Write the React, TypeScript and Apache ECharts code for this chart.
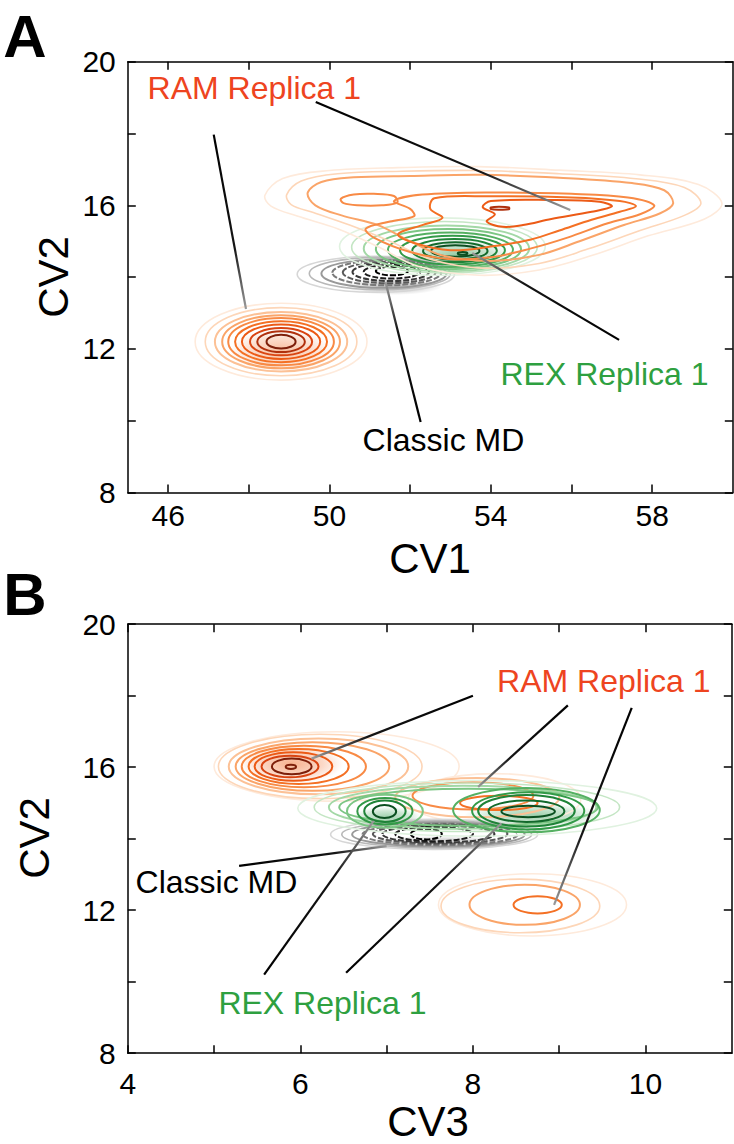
import React, { useEffect, useRef } from "react";
import * as echarts from "echarts";

// ---------- axes ----------
const A_X_TICKS = [46, 48, 50, 52, 54, 56, 58];
const A_X_LABELS = [46, 50, 54, 58];
const B_X_TICKS = [4, 5, 6, 7, 8, 9, 10];
const B_X_LABELS = [4, 6, 8, 10];
const Y_TICKS = [8, 10, 12, 14, 16, 18, 20];
const Y_LABELS = [8, 12, 16, 20];

// ---------- palettes (outer -> inner contour level) ----------
const ORANGE = ["#feeadb", "#fdd6b8", "#fcc196", "#faa468", "#f88a45", "#f47024", "#ec5a16", "#d94412", "#b0300d", "#7d1f0a"];
const GREEN = ["#e0f2e0", "#c4e6c4", "#a3d8a6", "#7cc684", "#55b062", "#339a48", "#1f8338", "#136a2c", "#0b4f20"];
const GRAY = ["#d6d6d6", "#b8b8b8", "#999999", "#7a7a7a", "#5a5a5a", "#3a3a3a", "#1c1c1c", "#000000"];

// ---------- Panel A contours: [cx, cy, rx, ry, level] ----------
const A_RAM_RINGS = [
  [48.8, 12.2, 2.13, 1.07, 0],
  [48.8, 12.2, 1.88, 0.95, 1],
  [48.8, 12.2, 1.64, 0.83, 2],
  [48.8, 12.2, 1.46, 0.74, 3],
  [48.8, 12.2, 1.31, 0.66, 4],
  [48.8, 12.2, 1.14, 0.57, 5],
  [48.8, 12.2, 0.97, 0.48, 6],
  [48.8, 12.2, 0.77, 0.38, 7],
  [48.8, 12.2, 0.59, 0.29, 8],
  [48.8, 12.2, 0.36, 0.19, 9],
];
// irregular RAM density (upper part of panel A): level + outline points
const A_RAM_POLY_LEVELS = [0, 1, 3, 4, 4, 5, 6, 8];
const A_RAM_POLY_POINTS = [
  [[48.4, 16.28], [48.84, 16.75], [50.0, 16.97], [51.7, 17.05], [53.7, 17.08], [55.7, 16.98], [57.7, 16.85], [59.15, 16.58], [59.73, 16.06], [59.3, 15.62], [57.9, 15.15], [56.5, 14.6], [55.2, 14.2], [53.7, 14.05], [52.2, 14.3], [51.2, 14.85], [50.2, 15.35], [49.2, 15.7], [48.55, 15.98]],
  [[48.94, 16.3], [49.3, 16.68], [50.2, 16.88], [51.8, 16.95], [53.7, 16.97], [55.7, 16.88], [57.6, 16.74], [58.8, 16.5], [59.21, 16.06], [58.8, 15.72], [57.7, 15.3], [56.4, 14.78], [55.2, 14.38], [53.8, 14.25], [52.5, 14.5], [51.5, 15.0], [50.5, 15.45], [49.6, 15.8], [49.05, 16.02]],
  [[49.46, 16.35], [49.8, 16.65], [50.6, 16.78], [52.0, 16.82], [53.8, 16.85], [55.7, 16.77], [57.5, 16.62], [58.3, 16.42], [58.52, 16.05], [58.2, 15.78], [57.3, 15.45], [56.2, 15.0], [55.2, 14.62], [54.0, 14.45], [52.8, 14.6], [52.0, 15.0], [51.2, 15.45], [50.3, 15.72], [49.65, 16.0]],
  [[50.28, 16.18], [50.6, 16.3], [51.1, 16.32], [51.6, 16.26], [51.68, 16.08], [51.3, 16.0], [50.7, 16.0], [50.35, 16.06]],
  [[51.6, 16.12], [52.3, 16.3], [54.0, 16.36], [56.0, 16.32], [57.4, 16.22], [58.05, 16.0], [57.7, 15.75], [56.9, 15.5], [55.9, 15.1], [55.0, 14.8], [54.0, 14.55], [53.0, 14.5], [52.0, 14.7], [51.1, 15.1], [50.9, 15.35], [51.5, 15.55], [52.1, 15.7], [52.0, 15.9]],
  [[52.6, 16.2], [54.0, 16.25], [56.0, 16.22], [57.2, 16.12], [57.6, 15.98], [57.2, 15.82], [56.5, 15.6], [55.7, 15.3], [55.0, 15.05], [54.0, 14.85], [53.0, 14.75], [52.1, 14.95], [51.7, 15.2], [52.3, 15.45], [52.8, 15.65], [52.5, 15.9]],
  [[54.0, 16.12], [55.5, 16.15], [56.7, 16.1], [57.0, 15.97], [56.5, 15.82], [55.5, 15.62], [54.8, 15.45], [54.3, 15.4], [53.9, 15.55], [54.1, 15.75], [53.8, 15.95]],
  [[54.0, 15.94], [54.2, 15.96], [54.45, 15.94], [54.45, 15.89], [54.2, 15.88], [54.0, 15.9]],
];
const A_REX_RINGS = [
  [52.8, 14.85, 2.55, 0.8, 0],
  [52.85, 14.83, 2.3, 0.72, 1],
  [52.9, 14.8, 2.05, 0.64, 2],
  [52.95, 14.78, 1.8, 0.56, 3],
  [53.0, 14.76, 1.55, 0.48, 4],
  [53.05, 14.75, 1.3, 0.4, 5],
  [53.1, 14.74, 1.05, 0.32, 6],
  [53.12, 14.73, 0.8, 0.24, 7],
  [53.12, 14.73, 0.6, 0.16, 8],
  [53.3, 14.66, 0.12, 0.04, 8],
];
const A_MD_RINGS = [
  [51.15, 14.08, 1.95, 0.5, 0],
  [51.25, 14.1, 1.75, 0.45, 1],
  [51.35, 14.1, 1.55, 0.4, 2],
  [51.42, 14.12, 1.35, 0.35, 3],
  [51.48, 14.13, 1.15, 0.3, 4],
  [51.52, 14.14, 0.95, 0.25, 5],
  [51.55, 14.15, 0.7, 0.19, 6],
  [51.55, 14.17, 0.4, 0.12, 7],
];

// ---------- Panel B contours ----------
const B_RAM_RINGS = [
  [6.42, 16.02, 1.42, 0.97, 0],
  [6.23, 16.02, 1.18, 0.9, 1],
  [6.21, 16.02, 1.04, 0.78, 2],
  [6.14, 16.02, 0.89, 0.68, 3],
  [6.04, 16.02, 0.72, 0.58, 4],
  [5.98, 16.02, 0.58, 0.49, 5],
  [5.92, 16.02, 0.45, 0.4, 6],
  [5.88, 16.02, 0.33, 0.3, 7],
  [5.9, 16.02, 0.23, 0.22, 9],
  [5.89, 16.01, 0.06, 0.06, 9],
  // middle component
  [8.25, 15.1, 1.0, 0.72, 0],
  [8.05, 15.15, 0.95, 0.55, 2],
  [8.0, 15.2, 0.7, 0.38, 4],
  [8.3, 15.0, 0.45, 0.2, 5],
  // lower component
  [8.69, 12.15, 1.09, 0.87, 0],
  [8.55, 12.12, 0.92, 0.75, 1],
  [8.6, 12.15, 0.64, 0.56, 3],
  [8.75, 12.15, 0.28, 0.24, 5],
];
const B_REX_RINGS = [
  [8.05, 14.85, 2.08, 0.78, 0],
  [7.93, 14.88, 1.77, 0.68, 1],
  [7.88, 14.88, 1.55, 0.6, 2],
  [7.95, 14.88, 1.5, 0.52, 3],
  [6.98, 14.77, 0.44, 0.46, 3],
  [6.98, 14.77, 0.32, 0.37, 5],
  [6.98, 14.77, 0.24, 0.3, 6],
  [6.975, 14.76, 0.135, 0.18, 8],
  [8.62, 14.8, 0.85, 0.62, 4],
  [8.64, 14.78, 0.65, 0.52, 5],
  [8.62, 14.78, 0.56, 0.44, 6],
  [8.62, 14.77, 0.44, 0.3, 7],
  [8.64, 14.76, 0.31, 0.16, 8],
];
const B_MD_RINGS = [
  [7.55, 14.12, 1.2, 0.42, 0],
  [7.58, 14.12, 1.1, 0.38, 1],
  [7.6, 14.12, 1.0, 0.34, 2],
  [7.62, 14.12, 0.9, 0.3, 3],
  [7.62, 14.13, 0.78, 0.27, 4],
  [7.6, 14.13, 0.65, 0.24, 5],
  [7.55, 14.13, 0.45, 0.2, 6],
  [7.46, 14.13, 0.18, 0.15, 7],
];

// ---------- density haze: [cx, cy, rx, ry] ----------
const A_HAZE_ORANGE = [[48.8, 11.95, 1.25, 0.6]];
const A_HAZE_GREEN = [[53.2, 14.6, 1.3, 0.45]];
const A_HAZE_GRAY = [[51.6, 13.75, 1.2, 0.25]];
const B_HAZE_ORANGE = [[5.9, 16.1, 0.6, 0.55]];
const B_HAZE_GREEN = [[8.7, 14.65, 0.8, 0.35], [7.0, 14.6, 0.4, 0.3]];
const B_HAZE_GRAY = [[7.6, 13.88, 0.9, 0.2]];

// ---------- annotations ----------
// leader lines: [x_label, y_label, x_blob, y_blob]
const A_LEADERS = [
  [49.66, 18.88, 55.97, 15.87],
  [47.13, 17.97, 47.93, 13.11],
  [57.18, 12.25, 53.54, 14.67],
  [52.26, 9.96, 51.39, 13.86],
];
const B_LEADERS = [
  [8.0, 18.0, 6.13, 16.24],
  [9.1, 17.73, 8.06, 15.45],
  [9.84, 17.66, 8.94, 12.15],
  [5.29, 13.24, 7.0, 13.79],
  [5.58, 10.2, 6.85, 14.5],
  [6.53, 10.25, 8.33, 14.43],
];
const LABEL_TEXTS = ["RAM Replica 1", "REX Replica 1", "Classic MD"];
const LABEL_COLORS = ["#ee4420", "#2ea040", "#000000"];
// [x, y, textIndex]
const A_LABELS = [
  [45.49, 19.28, 0],
  [54.24, 11.31, 1],
  [50.82, 9.46, 2],
];
const B_LABELS = [
  [8.28, 18.42, 0],
  [4.09, 12.79, 2],
  [5.05, 9.4, 1],
];

const FONT = "'Liberation Sans', Arial, Helvetica, sans-serif";

function ringSeries(data: number[][], palette: string[], axis: number, dashed = false) {
  return {
    type: "custom",
    coordinateSystem: "cartesian2d",
    xAxisIndex: axis,
    yAxisIndex: axis,
    silent: true,
    clip: true,
    data,
    encode: { x: 0, y: 1 },
    renderItem: (_p: any, api: any) => {
      const c = api.coord([api.value(0), api.value(1)]);
      const s = api.size([api.value(2), api.value(3)]);
      const lvl = api.value(4);
      return {
        type: "ellipse",
        shape: { cx: c[0], cy: c[1], rx: s[0], ry: s[1] },
        style: {
          fill: "none",
          stroke: palette[lvl],
          lineWidth: lvl < 2 ? 1.6 : 2,
          lineDash: dashed && lvl > 2 ? [6, 2] : null,
        },
      };
    },
  };
}

function hazeSeries(data: number[][], rgb: string, alpha: number, axis: number) {
  return {
    type: "custom",
    coordinateSystem: "cartesian2d",
    xAxisIndex: axis,
    yAxisIndex: axis,
    silent: true,
    data,
    encode: { x: 0, y: 1 },
    renderItem: (_p: any, api: any) => {
      const c = api.coord([api.value(0), api.value(1)]);
      const s = api.size([api.value(2), api.value(3)]);
      return {
        type: "ellipse",
        shape: { cx: c[0], cy: c[1], rx: s[0], ry: s[1] },
        style: {
          fill: {
            type: "radial",
            x: 0.5,
            y: 0.5,
            r: 0.5,
            colorStops: [
              { offset: 0, color: `rgba(${rgb},${alpha})` },
              { offset: 0.6, color: `rgba(${rgb},${alpha * 0.5})` },
              { offset: 1, color: `rgba(${rgb},0)` },
            ],
          },
          stroke: "none",
        },
      };
    },
  };
}

function polySeries(levels: number[], polys: number[][][], palette: string[], axis: number) {
  return {
    type: "custom",
    coordinateSystem: "cartesian2d",
    xAxisIndex: axis,
    yAxisIndex: axis,
    silent: true,
    data: polys.map((p, i) => [p[0][0], p[0][1], i]),
    encode: { x: 0, y: 1 },
    renderItem: (_p: any, api: any) => {
      const idx = api.value(2);
      const pts = polys[idx].map((pt) => api.coord(pt));
      const lvl = levels[idx];
      return {
        type: "polygon",
        shape: { points: pts, smooth: 0.35 },
        style: { fill: "none", stroke: palette[lvl], lineWidth: lvl < 2 ? 1.6 : 2 },
      };
    },
  };
}

function leaderSeries(data: number[][], axis: number) {
  return {
    type: "custom",
    coordinateSystem: "cartesian2d",
    xAxisIndex: axis,
    yAxisIndex: axis,
    silent: true,
    data,
    encode: { x: 0, y: 1 },
    renderItem: (_p: any, api: any) => {
      const a = api.coord([api.value(0), api.value(1)]);
      const b = api.coord([api.value(2), api.value(3)]);
      return {
        type: "line",
        shape: { x1: a[0], y1: a[1], x2: b[0], y2: b[1] },
        style: {
          lineWidth: 2.2,
          stroke: {
            type: "linear",
            x: a[0],
            y: a[1],
            x2: b[0],
            y2: b[1],
            global: true,
            colorStops: [
              { offset: 0, color: "#000000" },
              { offset: 0.65, color: "#151515" },
              { offset: 1, color: "#9a9a9a" },
            ],
          },
        },
      };
    },
  };
}

function labelSeries(data: number[][], axis: number) {
  return {
    type: "custom",
    coordinateSystem: "cartesian2d",
    xAxisIndex: axis,
    yAxisIndex: axis,
    silent: true,
    data,
    encode: { x: 0, y: 1 },
    renderItem: (_p: any, api: any) => {
      const c = api.coord([api.value(0), api.value(1)]);
      const t = api.value(2);
      return {
        type: "text",
        x: c[0],
        y: c[1],
        style: {
          text: LABEL_TEXTS[t],
          fill: LABEL_COLORS[t],
          fontSize: 32,
          fontFamily: FONT,
          align: "left",
          verticalAlign: "middle",
        },
      };
    },
  };
}

function xAxes(grid: number, min: number, max: number, ticks: number[], labels: number[], margin: number) {
  const line = { show: true, lineStyle: { color: "#000", width: 1.5 } };
  const tick = { show: true, inside: true, length: 8, customValues: ticks, lineStyle: { color: "#000", width: 1.5 } };
  return [
    {
      gridIndex: grid, type: "value", min, max, position: "bottom",
      axisLine: line, axisTick: tick, splitLine: { show: false },
      axisLabel: { customValues: labels, fontSize: 30, color: "#000", fontFamily: FONT, margin },
    },
    {
      gridIndex: grid, type: "value", min, max, position: "top",
      axisLine: line, axisTick: tick, splitLine: { show: false },
      axisLabel: { show: false },
    },
  ];
}

function yAxes(grid: number) {
  const line = { show: true, lineStyle: { color: "#000", width: 1.5 } };
  const tick = { show: true, inside: true, length: 8, customValues: Y_TICKS, lineStyle: { color: "#000", width: 1.5 } };
  return [
    {
      gridIndex: grid, type: "value", min: 8, max: 20, position: "left",
      axisLine: line, axisTick: tick, splitLine: { show: false },
      axisLabel: { customValues: Y_LABELS, fontSize: 30, color: "#000", fontFamily: FONT, margin: 12 },
    },
    {
      gridIndex: grid, type: "value", min: 8, max: 20, position: "right",
      axisLine: line, axisTick: tick, splitLine: { show: false },
      axisLabel: { show: false },
    },
  ];
}

export default function App() {
  const ref = useRef<HTMLDivElement>(null);
  useEffect(() => {
    if (!ref.current) return;
    const chart = echarts.init(ref.current, null, { renderer: "svg" });
    const txt = (text: string, x: number, y: number, size: number, weight: string, rotation = 0) => ({
      type: "text",
      x,
      y,
      rotation,
      style: { text, fill: "#000", fontSize: size, fontWeight: weight, fontFamily: FONT, align: "center", verticalAlign: "middle" },
    });
    chart.setOption({
      animation: false,
      backgroundColor: "#ffffff",
      grid: [
        { left: 127.8, top: 61.8, width: 605, height: 430.6 },
        { left: 127.8, top: 624.2, width: 604, height: 429 },
      ],
      xAxis: [...xAxes(0, 45, 60, A_X_TICKS, A_X_LABELS, 8), ...xAxes(1, 4, 11, B_X_TICKS, B_X_LABELS, 15)],
      yAxis: [...yAxes(0), ...yAxes(1)],
      graphic: [
        txt("A", 25, 36, 60, "bold"),
        txt("B", 25, 594, 60, "bold"),
        txt("CV1", 430, 558, 42, "normal"),
        txt("CV3", 428, 1121, 42, "normal"),
        txt("CV2", 53, 277, 42, "normal", Math.PI / 2),
        txt("CV2", 34, 838, 42, "normal", Math.PI / 2),
      ],
      series: [
        // Panel A
        hazeSeries(A_HAZE_ORANGE, "240,110,40", 0.45, 0),
        hazeSeries(A_HAZE_GRAY, "70,70,70", 0.35, 0),
        hazeSeries(A_HAZE_GREEN, "40,150,70", 0.5, 0),
        ringSeries(A_RAM_RINGS, ORANGE, 0),
        ringSeries(A_MD_RINGS, GRAY, 0, true),
        ringSeries(A_REX_RINGS, GREEN, 0),
        polySeries(A_RAM_POLY_LEVELS, A_RAM_POLY_POINTS, ORANGE, 0),
        leaderSeries(A_LEADERS, 0),
        labelSeries(A_LABELS, 0),
        // Panel B
        hazeSeries(B_HAZE_ORANGE, "240,100,30", 0.5, 2),
        hazeSeries(B_HAZE_GRAY, "70,70,70", 0.35, 2),
        hazeSeries(B_HAZE_GREEN, "40,150,70", 0.45, 2),
        ringSeries(B_RAM_RINGS, ORANGE, 2),
        ringSeries(B_MD_RINGS, GRAY, 2, true),
        ringSeries(B_REX_RINGS, GREEN, 2),
        leaderSeries(B_LEADERS, 2),
        labelSeries(B_LABELS, 2),
      ],
    });
    return () => chart.dispose();
  }, []);
  return (
    <div
      ref={ref}
      style={{ position: "absolute", left: 0, top: 0, width: 734, height: 1144, background: "#fff" }}
    />
  );
}
